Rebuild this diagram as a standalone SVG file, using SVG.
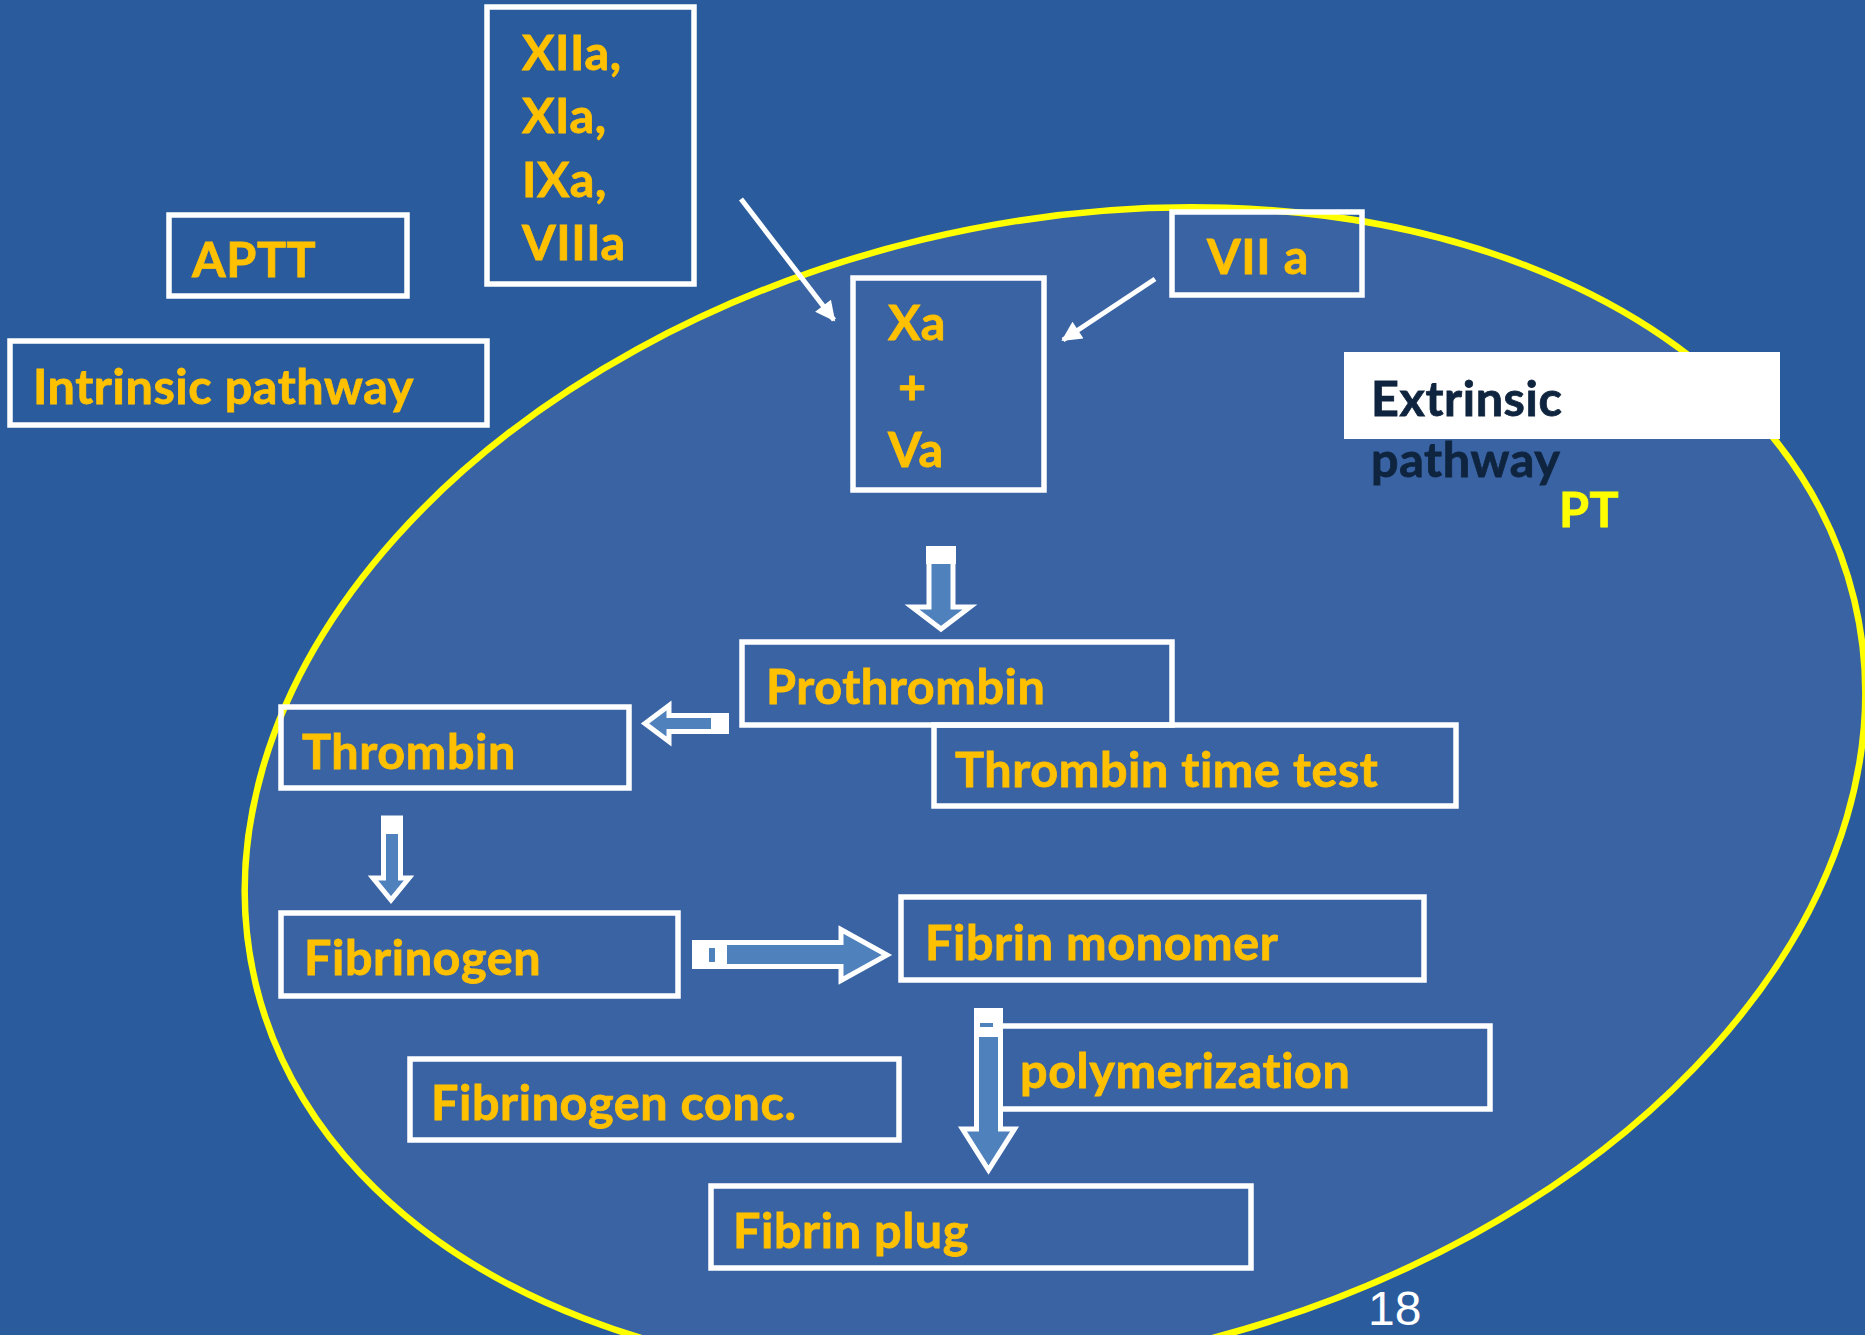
<svg xmlns="http://www.w3.org/2000/svg" width="1865" height="1335" viewBox="0 0 1865 1335">
<defs>
<style>
.box{fill:none;stroke:#FFFFFF;stroke-width:5.5}
.t{font-family:Lato,"Liberation Sans",sans-serif;font-weight:bold;font-size:48.5px;letter-spacing:0.6px;fill:#FFC000;stroke:#FFC000;stroke-width:0.8}
.dk{fill:#0F243E;stroke:#0F243E}
.pt{fill:#FFFF00;stroke:#FFFF00}
.blk{fill:#4F81BD;stroke:#FFFFFF;stroke-width:5;stroke-linejoin:miter}
.cap{fill:#FFFFFF}
.stripe{fill:#4F81BD}
.thin{stroke:#FFFFFF;stroke-width:5;fill:none}
</style>
<marker id="ah" viewBox="0 0 10 10" refX="9" refY="5" markerWidth="4.5" markerHeight="4" orient="auto" markerUnits="strokeWidth">
<path d="M0,0 L10,5 L0,10 z" fill="#FFFFFF"/>
</marker>
</defs>
<rect x="0" y="0" width="1865" height="1335" fill="#2A5C9D"/>
<ellipse id="region" cx="1055" cy="792" rx="822" ry="568" transform="rotate(-13.5 1055 792)" fill="#3963A3" stroke="#FFFF00" stroke-width="6.5"/>

<g id="connectors">
<line class="thin" x1="741" y1="199" x2="834" y2="320" marker-end="url(#ah)"/>
<line class="thin" x1="1155" y1="279" x2="1063" y2="340" marker-end="url(#ah)"/>
<g id="arrow-xa-prothrombin">
<polygon class="blk" points="929,549 953,549 953,607 970,607 941,629 912,607 929,607"/>
<rect class="cap" x="926" y="546" width="30" height="18"/>
</g>
<g id="arrow-prothrombin-thrombin">
<polygon class="blk" points="645,723.5 669,705.5 669,715.5 726.5,715.5 726.5,731.5 669,731.5 669,741.5"/>
<rect class="cap" x="711" y="713" width="18" height="21"/>
</g>
<g id="arrow-thrombin-fibrinogen">
<polygon class="blk" points="383.5,818 400.5,818 400.5,878 409,878 391,900 373,878 383.5,878"/>
<rect class="cap" x="381" y="816" width="22" height="18"/>
</g>
<g id="arrow-fibrinogen-monomer">
<polygon class="blk" points="694.5,942.5 841,942.5 841,929.5 887,955 841,980.5 841,966.5 694.5,966.5"/>
<rect class="cap" x="692" y="940" width="35" height="29"/>
<rect class="stripe" x="709" y="948" width="6" height="14"/>
</g>
</g>

<g id="node-xiia"><rect class="box" x="487" y="7" width="207" height="277"/>
<text class="t" x="522" y="70">XIIa,</text><text class="t" x="522" y="133">XIa,</text><text class="t" x="522" y="197">IXa,</text><text class="t" x="522" y="260">VIIIa</text></g>
<g id="node-aptt"><rect class="box" x="169" y="215" width="238" height="81"/><text class="t" x="192" y="277">APTT</text></g>
<g id="node-intrinsic"><rect class="box" x="10" y="341" width="477" height="84"/><text class="t" x="33" y="404">Intrinsic pathway</text></g>
<g id="node-xava"><rect class="box" x="853" y="278" width="191" height="212"/>
<text class="t" x="888" y="340">Xa</text><text class="t" x="898" y="404">+</text><text class="t" x="888" y="467">Va</text></g>
<g id="node-viia"><rect class="box" x="1172" y="212" width="190" height="83"/><text class="t" x="1207" y="274">VII a</text></g>
<g id="node-extrinsic"><rect x="1344" y="352" width="436" height="87" fill="#FFFFFF"/>
<text class="t dk" x="1371" y="416">Extrinsic</text><text class="t dk" x="1371" y="477">pathway</text>
<text class="t pt" x="1559" y="527">PT</text></g>
<g id="node-prothrombin"><rect class="box" x="742" y="642" width="430" height="83"/><text class="t" x="766" y="704">Prothrombin</text></g>
<g id="node-ttt"><rect class="box" x="934" y="725" width="522" height="81"/><text class="t" x="955" y="787">Thrombin time test</text></g>
<g id="node-thrombin"><rect class="box" x="281" y="707" width="348" height="81"/><text class="t" x="302" y="769">Thrombin</text></g>
<g id="node-fibrinogen"><rect class="box" x="281" y="913" width="397" height="83"/><text class="t" x="304" y="975">Fibrinogen</text></g>
<g id="node-monomer"><rect class="box" x="901" y="897" width="523" height="83"/><text class="t" x="925" y="960">Fibrin monomer</text></g>
<g id="node-polymerization"><rect class="box" x="999" y="1026" width="491" height="83"/><text class="t" x="1020" y="1088">polymerization</text></g>
<g id="node-fibconc"><rect class="box" x="410" y="1059" width="489" height="81"/><text class="t" x="431" y="1120">Fibrinogen conc.</text></g>
<g id="node-plug"><rect class="box" x="711" y="1186" width="540" height="82"/><text class="t" x="733" y="1248">Fibrin plug</text></g>

<g id="arrow-monomer-plug">
<polygon class="blk" points="976.5,1010.5 1000.5,1010.5 1000.5,1129 1014.5,1129 988.5,1170 962.5,1129 976.5,1129"/>
<rect class="cap" x="974" y="1008" width="29" height="29"/>
<rect class="stripe" x="980" y="1023" width="13" height="4"/>
</g>
<text x="1368" y="1325" font-family="Liberation Sans, Arial, sans-serif" font-size="48" fill="#FFFFFF">18</text>
</svg>
